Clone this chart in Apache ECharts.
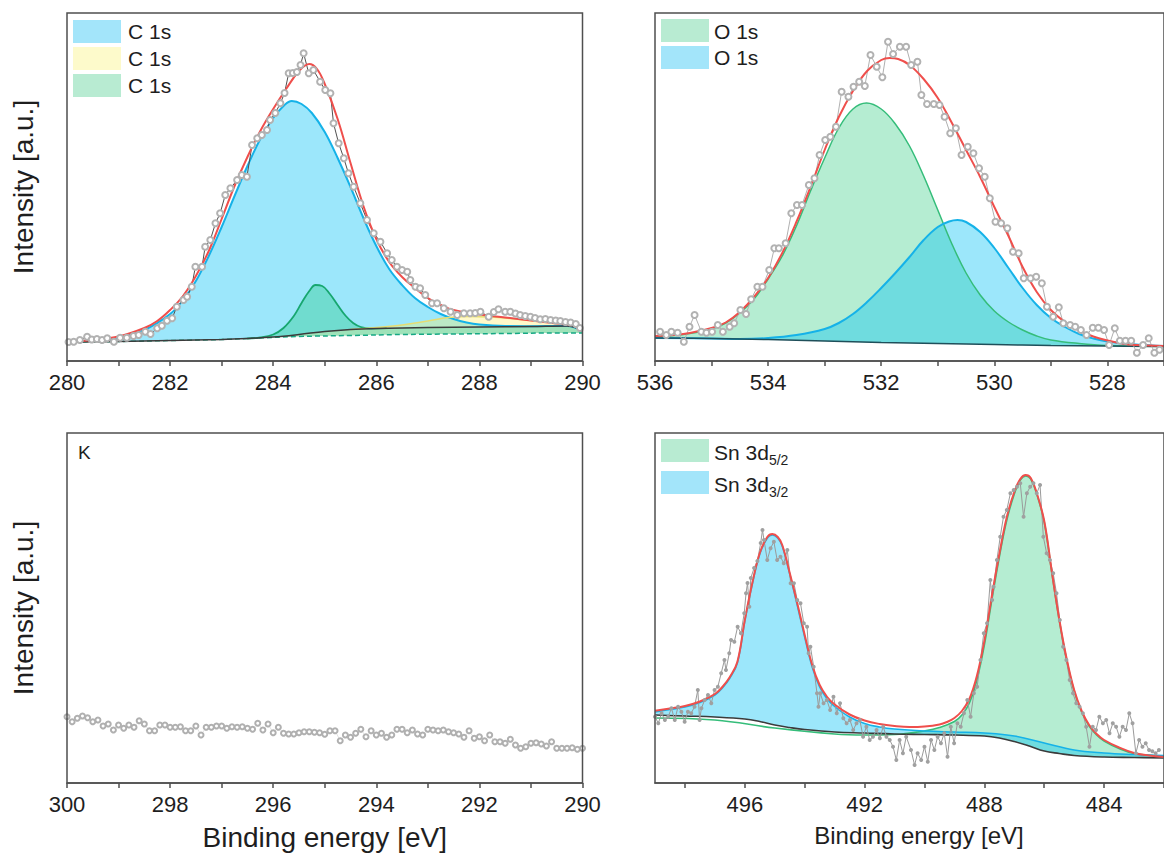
<!DOCTYPE html>
<html>
<head>
<meta charset="utf-8">
<script src="https://cdn.jsdelivr.net/npm/echarts@6/dist/echarts.min.js"></script>
<style>
  html, body { margin: 0; padding: 0; background: #ffffff; }
  #chart { width: 1164px; height: 860px; }
</style>
</head>
<body>
<div id="chart"></div>
<script>
// ---------- C 1s region (binding energy in eV, intensity in a.u.) ----------
const cRawE = [280.03, 280.13, 280.25, 280.39, 280.48, 280.58, 280.68, 280.78, 280.91, 281.03,
  281.16, 281.29, 281.39, 281.52, 281.62, 281.75, 281.84, 281.94, 282.04, 282.13,
  282.26, 282.33, 282.42, 282.49, 282.62, 282.68, 282.78, 282.88, 282.97, 283.07,
  283.17, 283.30, 283.39, 283.49, 283.59, 283.69, 283.78, 283.88, 283.94, 284.04,
  284.14, 284.22, 284.30, 284.38, 284.46, 284.53, 284.59, 284.69, 284.78, 284.91,
  285.01, 285.11, 285.17, 285.27, 285.37, 285.46, 285.56, 285.69, 285.82, 285.95,
  286.08, 286.21, 286.30, 286.40, 286.50, 286.60, 286.66, 286.76, 286.85, 286.95,
  287.08, 287.18, 287.31, 287.44, 287.57, 287.70, 287.82, 287.92, 288.02, 288.18,
  288.28, 288.37, 288.50, 288.60, 288.70, 288.79, 288.89, 288.99, 289.08, 289.18,
  289.28, 289.38, 289.48, 289.57, 289.67, 289.77, 289.87, 289.95];
const cRawI = [19, 19.3, 21, 24.3, 21.5, 22, 21, 22.7, 19.3, 23.3,
  23.3, 25, 26, 29.3, 27, 32.7, 35.3, 40.3, 42.7, 54.3,
  61, 64.3, 74.3, 94.3, 94.3, 114.3, 121, 137.7, 147.7, 166,
  172.7, 181, 186, 184.3, 216, 222.7, 226, 231, 241, 248,
  257.7, 268, 287.7, 288, 289, 296, 307.7, 287.7, 291, 279.3,
  271, 267.7, 237.7, 217.7, 202.7, 187.7, 174.3, 157.7, 141, 127.7,
  119.3, 107.7, 101, 94.3, 91, 89.3, 81, 74.3, 72.7, 66,
  57.7, 57.7, 52.7, 49.3, 46, 47.7, 47.7, 48, 49.3, 44.3,
  49, 51.7, 49.3, 49.3, 47.5, 46, 45, 44.3, 43, 41.7,
  42, 41, 40.5, 40, 39, 38.5, 37, 33];
const cEnvE = [280, 280.5, 281, 281.5, 281.75, 282, 282.25, 282.5, 282.75, 283,
  283.25, 283.5, 283.75, 284, 284.25, 284.5, 284.7, 284.85, 285, 285.25,
  285.5, 285.75, 286, 286.25, 286.5, 286.75, 287, 287.25, 287.5, 288,
  288.5, 289, 289.5, 289.8, 289.92, 290];
const cEnvI = [19, 21, 24.5, 33, 40, 51, 65, 85, 110, 142,
  175, 204, 230, 252, 272, 290, 297, 292, 277, 242,
  198, 155, 122, 99, 84, 73, 63, 56, 51, 46.5,
  43.5, 40.5, 37.5, 36, 35, 30];
const cBlueE = [280, 280.5, 281, 281.5, 282, 282.25, 282.5, 282.75, 283, 283.25,
  283.5, 283.75, 284, 284.2, 284.36, 284.55, 284.75, 285, 285.25, 285.5,
  285.75, 286, 286.25, 286.5, 286.75, 287, 287.25, 287.5, 287.75, 288,
  288.5, 289, 289.7, 290];
const cBlueI = [19, 20.5, 23, 31, 47, 61, 80, 105, 134, 165,
  195, 222, 243, 255, 260, 257, 248, 229, 203, 174,
  143, 115, 92, 76, 63, 54, 47, 42, 38.5, 36.5,
  35, 34.8, 35, 30];
const cGreenE = [283.5, 283.75, 284.0, 284.2, 284.4, 284.55, 284.7, 284.82, 284.95, 285.1, 285.25, 285.4, 285.55, 285.7, 285.9, 286.2];
const cGreenI = [22.5, 23.5, 26.5, 33, 45, 58, 70, 76, 75, 67, 56, 45.5, 38, 34, 32.5, 32.8];
const cYellowE = [285.5, 286.0, 286.5, 287.0, 287.4, 287.8, 288.2, 288.7, 289.2, 289.7, 289.9, 290];
const cYellowI = [31.5, 33.5, 36, 40, 43.5, 44.5, 44, 42, 39.5, 37, 35, 30];
const cBgE = [280, 281, 282, 283, 283.5, 284, 284.5, 285, 285.5, 286, 287, 288, 289, 289.7, 289.9, 290];
const cBgI = [19, 19.5, 20.5, 21.5, 22.5, 24, 26.5, 29.5, 31.5, 32.5, 33.5, 34, 34.5, 35, 33, 30];
const cLowE = [280, 281, 282, 283, 283.5, 284.5, 285.5, 286.5, 287.5, 288.5, 289.5, 290];
const cLowI = [19, 19.5, 20.5, 21.5, 22.5, 24.5, 25.5, 26.5, 27, 27.5, 28, 28];
const cTicks = [280, 281, 282, 283, 284, 285, 286, 287, 288, 289, 290];
const cLabels = [280, 282, 284, 286, 288, 290];

// ---------- O 1s region ----------
const oRawE = [535.91, 535.80, 535.71, 535.60, 535.49, 535.39, 535.30, 535.18, 535.09, 534.99,
  534.89, 534.80, 534.68, 534.60, 534.49, 534.39, 534.30, 534.19, 534.10, 533.98,
  533.89, 533.81, 533.69, 533.59, 533.49, 533.40, 533.28, 533.18, 533.09, 532.99,
  532.90, 532.80, 532.70, 532.58, 532.49, 532.39, 532.29, 532.19, 532.08, 531.98,
  531.88, 531.79, 531.67, 531.56, 531.47, 531.36, 531.29, 531.19, 531.07, 530.97,
  530.88, 530.78, 530.68, 530.58, 530.47, 530.37, 530.27, 530.17, 530.08, 529.98,
  529.88, 529.77, 529.67, 529.57, 529.48, 529.36, 529.26, 529.16, 529.07, 528.96,
  528.86, 528.78, 528.66, 528.57, 528.47, 528.37, 528.26, 528.16, 528.06, 527.97,
  527.87, 527.78, 527.68, 527.58, 527.48, 527.37, 527.27, 527.17, 527.08];
const oRawI = [29.3, 26, 29.3, 28.3, 19.3, 34.3, 46, 29.3, 28.3, 29.3,
  36, 29.3, 34.3, 37.7, 51, 47, 61.7, 74.3, 74.3, 91,
  112.7, 112.7, 117.7, 147.7, 156, 156, 176, 182.7, 206, 221,
  224.3, 234.3, 269.3, 264.3, 274.3, 279.3, 275, 306, 294.3, 283.7,
  319.3, 307, 314.3, 314.3, 296, 299.3, 266, 257, 257, 256,
  244.3, 227.7, 232.7, 206, 214.3, 207.7, 192.7, 184.3, 162.7, 139.3,
  137.7, 132.7, 109.3, 107.7, 82.7, 82.7, 84.3, 77.7, 54.3, 44.3,
  53.7, 37.7, 36, 34.3, 31, 26, 33.3, 33.3, 31, 16,
  32.7, 20.3, 20.3, 20.3, 8.3, 16, 22.7, 8.3, 11.3];
const oEnvE = [536, 535.5, 535, 534.75, 534.5, 534.25, 534, 533.75, 533.5, 533.25,
  533, 532.75, 532.5, 532.25, 532, 531.85, 531.7, 531.5, 531.25, 531,
  530.75, 530.5, 530.25, 530, 529.75, 529.5, 529.25, 529, 528.75, 528.5,
  528.25, 528, 527.75, 527.5, 527];
const oEnvI = [25, 27, 33, 38.5, 49, 64, 83, 108, 139, 174,
  211, 244, 270, 290, 301, 303, 302, 296, 282, 263,
  238, 211, 184, 154, 125, 94, 69, 51, 39, 30.5,
  24.5, 20.5, 17.5, 16, 15];
const oGreenE = [536, 535.5, 535, 534.75, 534.5, 534.25, 534, 533.75, 533.5, 533.25,
  533, 532.75, 532.5, 532.26, 532, 531.75, 531.5, 531.25, 531, 530.75,
  530.5, 530.25, 530, 529.75, 529.5, 529.25, 529, 528.5, 528, 527];
const oGreenI = [24.5, 26.5, 32, 38, 48, 62, 82, 105, 135, 170,
  203, 233, 252, 258, 252, 237, 215, 185, 151, 117,
  88, 66, 50, 39, 31, 25, 21, 17.5, 15.5, 14.5];
const oBlueE = [536, 535, 534.5, 534, 533.5, 533, 532.75, 532.5, 532.25, 532,
  531.75, 531.5, 531.25, 531, 530.8, 530.65, 530.5, 530.25, 530, 529.75,
  529.5, 529.25, 529, 528.75, 528.5, 528.25, 528, 527.5, 527];
const oBlueI = [23, 22.5, 22, 23, 26, 32, 38, 47, 59, 73,
  88, 104, 121, 134, 139.5, 141, 139, 129, 113, 93,
  73, 56, 43, 34, 27, 22.5, 19.5, 16.5, 15];
const oBgE = [536, 535, 534, 533, 532, 531, 530, 529, 528, 527];
const oBgI = [23, 22.5, 21.5, 20, 18.5, 17.5, 16.5, 15.5, 15, 14.5];
const oTicks = [527, 528, 529, 530, 531, 532, 533, 534, 535, 536];
const oLabels = [528, 530, 532, 534, 536];

// ---------- K region ----------
const kE = [300, 299.9, 299.8, 299.7, 299.6, 299.5, 299.4, 299.3, 299.2, 299.1,
  299, 298.9, 298.8, 298.7, 298.6, 298.5, 298.4, 298.3, 298.2, 298.1,
  298, 297.9, 297.8, 297.7, 297.6, 297.5, 297.4, 297.3, 297.2, 297.1,
  297, 296.9, 296.8, 296.7, 296.6, 296.5, 296.4, 296.3, 296.2, 296.1,
  296, 295.9, 295.8, 295.7, 295.6, 295.5, 295.4, 295.3, 295.2, 295.1,
  295, 294.9, 294.8, 294.7, 294.6, 294.5, 294.4, 294.3, 294.2, 294.1,
  294, 293.9, 293.8, 293.7, 293.6, 293.5, 293.4, 293.3, 293.2, 293.1,
  293, 292.9, 292.8, 292.7, 292.6, 292.5, 292.4, 292.3, 292.2, 292.1,
  292, 291.9, 291.8, 291.7, 291.6, 291.5, 291.4, 291.3, 291.2, 291.1,
  291, 290.9, 290.8, 290.7, 290.6, 290.5, 290.4, 290.3, 290.2, 290.1,
  290];
const kI = [66.3, 61.3, 64.7, 67, 65.3, 61.3, 63, 57, 59, 53,
  58, 54.7, 58, 55.7, 62.3, 59, 52.3, 52.3, 58, 58,
  55.7, 55.7, 56.3, 52.3, 52.3, 57, 48, 55.7, 55.7, 57,
  57, 54.7, 56.3, 55.7, 56.3, 54.7, 53.7, 59.7, 53, 59,
  50.3, 55.7, 49.7, 49, 49, 50.3, 51.3, 51.3, 50.7, 50.3,
  48.7, 52.3, 52.3, 42.3, 48, 45.7, 49.7, 53.7, 46.3, 52.3,
  48, 49.7, 45.7, 48, 53.7, 53.7, 50.3, 53, 49, 48,
  53.7, 53, 52.3, 53, 51.3, 50.3, 49, 45.7, 52.3, 44.7,
  46.3, 42.3, 48, 41.3, 41.3, 39.7, 43.7, 38, 34.7, 36.3,
  39.7, 40.3, 39, 37, 41.3, 34.7, 34.7, 34.7, 35.3, 33.7,
  34.7];
const kTicks = [290, 291, 292, 293, 294, 295, 296, 297, 298, 299, 300];
const kLabels = [290, 292, 294, 296, 298, 300];

// ---------- Sn 3d region ----------
const snRawE = [499.00, 498.89, 498.78, 498.67, 498.56, 498.45, 498.34, 498.23, 498.12, 498.01,
  497.90, 497.79, 497.68, 497.57, 497.51, 497.45, 497.34, 497.23, 497.12, 497.01,
  496.90, 496.79, 496.68, 496.63, 496.52, 496.46, 496.35, 496.24, 496.13, 496.02,
  495.96, 495.91, 495.85, 495.80, 495.69, 495.58, 495.47, 495.41, 495.36, 495.25,
  495.14, 495.03, 494.92, 494.81, 494.70, 494.58, 494.47, 494.36, 494.25, 494.14,
  494.03, 493.92, 493.87, 493.81, 493.70, 493.59, 493.54, 493.48, 493.37, 493.26,
  493.15, 493.04, 492.93, 492.82, 492.71, 492.60, 492.49, 492.38, 492.27, 492.16,
  492.05, 491.94, 491.83, 491.72, 491.60, 491.49, 491.38, 491.27, 491.16, 491.05,
  490.94, 490.83, 490.72, 490.61,
  490.45, 490.33, 490.23, 490.11, 490.00, 489.89, 489.78, 489.67, 489.56, 489.45,
  489.34, 489.23, 489.12, 489.01, 488.90, 488.79, 488.68, 488.57, 488.46, 488.35,
  488.24, 488.13, 488.02, 487.91, 487.80, 487.74, 487.69, 487.58, 487.47, 487.36,
  487.25, 487.13, 487.02, 486.91, 486.80, 486.69, 486.58, 486.47, 486.36, 486.25,
  486.14, 486.03, 485.92, 485.81, 485.70, 485.59, 485.48, 485.37, 485.26, 485.15,
  485.04, 484.93, 484.82, 484.71, 484.60, 484.49, 484.38, 484.27, 484.16, 484.04,
  483.93, 483.82, 483.71, 483.60, 483.49, 483.38, 483.27, 483.16, 483.05, 482.94,
  482.83, 482.72, 482.61, 482.50, 482.39, 482.28, 482.17];
const snRawI = [66.3, 59.7, 69.7, 63, 66.3, 74.7, 63, 76.3, 71.3, 61.3,
  71.3, 69.7, 76.3, 93, 63, 74.7, 83, 88, 79.7, 93,
  96.3, 109.7, 123, 113, 129.7, 143, 141.3, 156.3, 149.7, 169.7,
  189.7, 200, 176.3, 205, 215, 222, 240, 253, 243, 223,
  234.7, 241.3, 223, 226.3, 219.7, 233, 199.7, 199.7, 183, 179.7,
  159.7, 156.3, 129.7, 136.3, 116.3, 89.7, 76.3, 89.7, 79.7, 83,
  73, 86.3, 69.7, 79.7, 64.7, 59.7, 63, 53, 59.7, 63,
  46.3, 56.3, 43, 46.3, 53, 44.7, 56.3, 46.3, 43, 36.3,
  23, 43, 29.7, 46.3,
  33, 18, 29.7, 23, 36.3, 21.3, 43, 33, 46.3, 39.7,
  49.7, 26.3, 56.3, 39.7, 59.7, 56.3, 69.7, 83, 66.3, 89.7,
  96.3, 123, 149.7, 159.7, 203, 183, 196.3, 223, 246.3, 266.3,
  273, 289.7, 293, 296.3, 299.7, 266.3, 289.7, 296.3, 299.7, 289.7,
  298, 246.3, 229.7, 223, 209.7, 189.7, 163, 136.3, 123, 103,
  89.7, 79.7, 76.3, 69.7, 56.3, 36.3, 56.3, 53, 66.3, 59.7,
  63, 49.7, 59.7, 56.3, 46.3, 56.3, 53, 69.7, 59.7, 29.7,
  43, 36.3, 39.7, 33, 31.7, 29.7, 33];
const snEnvE = [499, 498.5, 498, 497.5, 497, 496.75, 496.5, 496.25, 496, 495.75,
  495.5, 495.25, 495.08, 494.9, 494.75, 494.5, 494.25, 494, 493.75, 493.5,
  493.25, 493, 492.5, 492, 491.5, 491, 490.5, 490, 489.5, 489.25,
  489, 488.75, 488.5, 488.25, 488, 487.75, 487.5, 487.25, 487, 486.8,
  486.62, 486.45, 486.25, 486, 485.75, 485.5, 485.25, 485, 484.75, 484.5,
  484.25, 484, 483.5, 483, 482.5, 482];
const snEnvI = [72.3, 74.5, 77, 81.5, 89, 96, 106, 121, 163, 200,
  230, 246, 249, 246, 238, 210, 180, 148, 118, 98,
  86, 78.5, 68.5, 62.5, 59, 57, 56, 56.5, 58.5, 61,
  65, 72, 84, 107, 142, 187, 229, 266, 291, 304,
  308, 305, 290, 262, 212, 164, 124, 93, 72, 58,
  49, 43, 35.5, 30, 27.5, 26];
const sn52E = [499, 497, 495, 493, 492, 491, 490.5, 490, 489.5, 489,
  488.75, 488.5, 488.25, 488, 487.75, 487.5, 487.25, 487, 486.8, 486.62,
  486.45, 486.25, 486, 485.75, 485.5, 485.25, 485, 484.75, 484.5, 484.25,
  484, 483.5, 483, 482];
const sn52I = [65, 63, 55, 49, 48, 48.5, 50, 52, 55.5, 61.5,
  68, 80, 103, 138, 183, 226, 263, 289, 303, 307,
  304, 289, 261, 211, 163, 123, 92, 71, 57, 48,
  42, 34.5, 29.5, 27];
const sn32E = [499, 498.5, 498, 497.5, 497, 496.75, 496.5, 496.25, 496, 495.75,
  495.5, 495.25, 495.08, 494.9, 494.75, 494.5, 494.25, 494, 493.75, 493.5,
  493.25, 493, 492.5, 492, 491.5, 491, 490, 489, 488, 487,
  486, 485, 484, 483, 482];
const sn32I = [71, 73.5, 76, 80.5, 88, 95, 105, 120, 162, 199,
  229, 245, 248, 245, 237, 209, 178, 146, 116, 96,
  84, 76.5, 66, 59.5, 56, 54, 52, 51, 50, 47,
  40, 33, 30, 28.5, 27.5];
const snBgE = [499, 498, 497, 496, 495.5, 495, 494.5, 494, 493, 492,
  491, 490, 489, 488, 487.5, 487, 486.5, 486, 485.5, 485,
  484, 483, 482];
const snBgI = [68, 67, 66, 64, 61.5, 58, 55.5, 53.5, 51, 50,
  49, 48.5, 48, 47, 45, 41.5, 37, 32, 29.5, 27.5,
  26, 25.5, 25];
const snTicks = [482, 484, 486, 488, 490, 492, 494, 496, 498];
const snLabels = [484, 488, 492, 496];

// ---------- styling ----------
const FONT = '"Liberation Sans", Arial, Helvetica, sans-serif';
const FRAME = '#4f4f4f';
const TEXT = '#1e1e1e';
const RED = '#ef4f4c';
const BLUE_LINE = '#15b2e8';
const BLUE_FILL = 'rgba(0, 192, 244, 0.39)';
const GREEN_LINE = '#35bd7a';
const GREEN_FILL = 'rgba(10, 195, 105, 0.30)';
const YELLOW_LINE = '#e6dc72';
const YELLOW_FILL = 'rgba(255, 238, 90, 0.33)';
const BG_LINE = '#3b3b3b';
const SMOOTH = 0.4;

const zip = (xs, ys) => xs.map((x, i) => [x, ys[i]]);

function fit(g, E, I, line, fill, width) {
  const s = {
    type: 'line', xAxisIndex: g, yAxisIndex: g, data: zip(E, I),
    smooth: SMOOTH, symbol: 'none', silent: true,
    lineStyle: { color: line, width: width || 1.8 }
  };
  if (fill) s.areaStyle = { color: fill, opacity: 1, origin: 'start' };
  return s;
}
// white area under the background curve hides the parts of the peak fills below it
function mask(g, E, I, line, width, dashed) {
  return {
    type: 'line', xAxisIndex: g, yAxisIndex: g, data: zip(E, I),
    smooth: SMOOTH, symbol: 'none', silent: true,
    lineStyle: line ? { color: line, width: width || 1.5, type: dashed ? [5, 3] : 'solid' } : { width: 0, opacity: 0 },
    areaStyle: { color: '#ffffff', opacity: 1, origin: 'start' }
  };
}
function raw(g, E, I, o) {
  return {
    type: 'line', xAxisIndex: g, yAxisIndex: g, data: zip(E, I), silent: true,
    symbol: o.symbol || 'emptyCircle', symbolSize: o.size,
    itemStyle: { color: o.marker, borderWidth: o.bw || 1 },
    lineStyle: { color: o.line, width: o.lw === undefined ? 1 : o.lw, opacity: o.lw === 0 ? 0 : 1 }
  };
}

function xAxisOf(g, min, max, inverse, ticks, labels, name, nameSize, namePad) {
  return {
    gridIndex: g, type: 'value', min: min, max: max, inverse: inverse, z: 11,
    splitLine: { show: false },
    axisLine: { show: true, onZero: false, lineStyle: { color: FRAME, width: 1.5 } },
    axisTick: { show: true, customValues: ticks, length: 5, lineStyle: { color: FRAME, width: 1.5 } },
    axisLabel: { customValues: labels, fontSize: 22, color: TEXT, margin: 10, fontFamily: FONT },
    name: name || '', nameLocation: 'middle', nameGap: 40,
    nameTextStyle: { fontSize: nameSize || 28, color: TEXT, fontFamily: FONT, padding: namePad || 0 }
  };
}
function yAxisOf(g, max, name) {
  return {
    gridIndex: g, type: 'value', min: 0, max: max,
    axisLine: { show: false }, axisTick: { show: false }, axisLabel: { show: false },
    splitLine: { show: false },
    name: name || '', nameLocation: 'middle', nameGap: 30, nameRotate: 90,
    nameTextStyle: { fontSize: 28, color: TEXT, fontFamily: FONT }
  };
}

function box(x, y, color) {
  return { type: 'rect', z: 100, shape: { x: x, y: y, width: 48, height: 23 }, style: { fill: color } };
}
function label(x, y, text, size, rich) {
  const st = { text: text, x: x, y: y, fill: TEXT, font: (size || 20) + 'px ' + FONT, verticalAlign: 'middle', align: 'left' };
  if (rich) st.rich = rich;
  return { type: 'text', z: 100, style: st };
}
const subRich = {
  m: { fontSize: 21, fontFamily: FONT, fill: TEXT, lineHeight: 30, verticalAlign: 'middle' },
  s: { fontSize: 14, fontFamily: FONT, fill: TEXT, lineHeight: 14, verticalAlign: 'bottom' }
};
const LEG_BLUE = '#a3e5fa';
const LEG_GREEN = '#b8ebd2';
const LEG_YELLOW = '#fdfacb';

const option = {
  animation: false,
  backgroundColor: '#ffffff',
  grid: [
    { left: 67, top: 13, width: 515.5, height: 348 },
    { left: 655, top: 13, width: 513, height: 348 },
    { left: 67, top: 433, width: 515.5, height: 350 },
    { left: 655, top: 433, width: 513.4, height: 350 }
  ].map(g => Object.assign({ show: true, borderColor: FRAME, borderWidth: 1.5, backgroundColor: 'transparent', z: 10 }, g)),
  xAxis: [
    xAxisOf(0, 280, 290, false, cTicks, cLabels),
    xAxisOf(1, 527, 536, true, oTicks, oLabels),
    xAxisOf(2, 290, 300, true, kTicks, kLabels, 'Binding energy [eV]', 28),
    xAxisOf(3, 482, 499, true, snTicks, snLabels, 'Binding energy [eV]', 24, [0, 0, 0, 19])
  ],
  yAxis: [
    yAxisOf(0, 348, 'Intensity [a.u.]'),
    yAxisOf(1, 348),
    yAxisOf(2, 350, 'Intensity [a.u.]'),
    yAxisOf(3, 350)
  ],
  series: [
    // C 1s
    fit(0, cBlueE, cBlueI, BLUE_LINE, BLUE_FILL, 2),
    fit(0, cGreenE, cGreenI, '#17a76f', GREEN_FILL, 1.8),
    fit(0, cYellowE, cYellowI, YELLOW_LINE, YELLOW_FILL, 1.5),
    mask(0, cBgE, cBgI),
    {
      type: 'line', xAxisIndex: 0, yAxisIndex: 0, data: zip(cBgE, cBgI), smooth: SMOOTH,
      symbol: 'none', silent: true, lineStyle: { width: 0, opacity: 0 },
      areaStyle: { color: 'rgba(40, 190, 100, 0.45)', opacity: 1, origin: 'start' }
    },
    mask(0, cLowE, cLowI, '#16a884', 1.5, true),
    fit(0, cBgE, cBgI, BG_LINE, null, 1.5),
    raw(0, cRawE, cRawI, { size: 6, marker: '#b2b2b2', line: '#505050', lw: 1 }),
    fit(0, cEnvE, cEnvI, RED, null, 2),

    // O 1s
    fit(1, oGreenE, oGreenI, GREEN_LINE, GREEN_FILL, 1.5),
    fit(1, oBlueE, oBlueI, BLUE_LINE, BLUE_FILL, 2),
    mask(1, oBgE, oBgI, '#1f4f5a', 1.5),
    raw(1, oRawE, oRawI, { size: 6, marker: '#b2b2b2', line: '#b0b0b0', lw: 1 }),
    fit(1, oEnvE, oEnvI, RED, null, 2),

    // K
    raw(2, kE, kI, { size: 5, marker: '#b0b0b0', line: '#cfcfcf', lw: 0.6 }),

    // Sn 3d
    fit(3, sn52E, sn52I, GREEN_LINE, GREEN_FILL, 1.6),
    fit(3, sn32E, sn32I, BLUE_LINE, BLUE_FILL, 1.6),
    mask(3, snBgE, snBgI, BG_LINE, 1.6),
    raw(3, snRawE, snRawI, { symbol: 'emptyCircle', size: 2, marker: '#a0a0a0', line: '#9a9a9a', lw: 1 }),
    fit(3, snEnvE, snEnvI, RED, null, 2)
  ],
  graphic: [
    box(73, 20, LEG_BLUE), label(128, 31.5, 'C 1s', 21),
    box(73, 47, LEG_YELLOW), label(128, 58.5, 'C 1s', 21),
    box(73, 74, LEG_GREEN), label(128, 85.5, 'C 1s', 21),
    box(661, 19, LEG_GREEN), label(714, 31, 'O 1s', 21),
    box(661, 46, LEG_BLUE), label(714, 57.5, 'O 1s', 21),
    label(78, 452, 'K', 19),
    box(661, 439, LEG_GREEN), label(714, 452, '{m|Sn 3d}{s|5/2}', 21, subRich),
    box(661, 471, LEG_BLUE), label(714, 484, '{m|Sn 3d}{s|3/2}', 21, subRich)
  ]
};

const chart = echarts.init(document.getElementById('chart'), null, { renderer: 'svg', width: 1164, height: 860 });
chart.setOption(option);
</script>
</body>
</html>
